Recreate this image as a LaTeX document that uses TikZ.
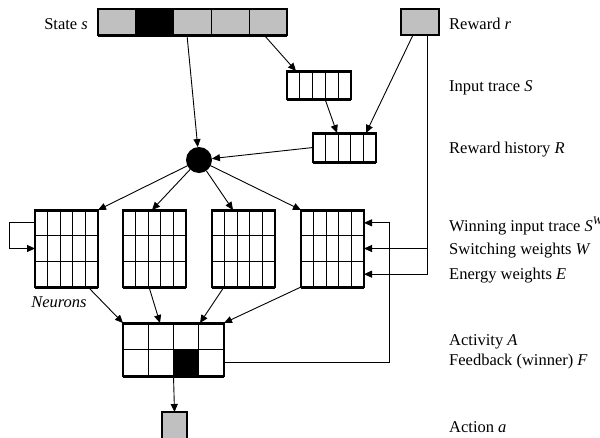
\documentclass[tikz,border=0pt]{standalone}
\usepackage{fontspec}
\setmainfont{Liberation Serif}
\usetikzlibrary{calc,arrows.meta}
\definecolor{cellgray}{HTML}{C0C0C0}
\begin{document}
\begin{tikzpicture}[x=1pt,y=-1pt,
  box/.style={draw, line width=1.1pt, inner sep=0pt, outer sep=0pt, fill=white},
  cell/.style={line width=1.1pt},
  bar/.style={line width=3pt},
  arr/.style={-{Triangle[length=8pt,width=7pt]}, line width=0.9pt},
  lbl/.style={anchor=west, inner sep=0pt, font=\fontsize{16.5}{20}\selectfont},
  lblr/.style={anchor=east, inner sep=0pt, font=\fontsize{16.5}{20}\selectfont}
]
\useasboundingbox (0,0) rectangle (600,437);

% ---------- State s ----------
\node[box, fill=cellgray, minimum width=189pt, minimum height=26pt] (state) at (192.5,22) {};
\fill ($(state.north west)!0.2!(state.north east)$) rectangle ($(state.south west)!0.4!(state.south east)$);
\foreach \i in {1,...,4}
  \draw[cell] ($(state.north west)!\i/5!(state.north east)$) -- ($(state.south west)!\i/5!(state.south east)$);
\draw[line width=1.1pt] (state.north west) rectangle (state.south east);
\draw[bar] (state.south west) -- (state.south east);

% ---------- Reward r ----------
\node[box, fill=cellgray, minimum width=38pt, minimum height=26pt] (reward) at (420,22) {};

% ---------- Input trace S ----------
\node[box, minimum width=64pt, minimum height=28pt] (itrace) at (319,85) {};
\foreach \i in {1,...,4}
  \draw[cell] ($(itrace.north west)!\i/5!(itrace.north east)$) -- ($(itrace.south west)!\i/5!(itrace.south east)$);
\draw[bar] (itrace.north west) -- (itrace.north east);
\draw[bar] (itrace.south west) -- (itrace.south east);

% ---------- Reward history R ----------
\node[box, minimum width=63pt, minimum height=29pt] (rhist) at (344.5,147.5) {};
\foreach \i in {1,...,4}
  \draw[cell] ($(rhist.north west)!\i/5!(rhist.north east)$) -- ($(rhist.south west)!\i/5!(rhist.south east)$);
\draw[bar] (rhist.north west) -- (rhist.north east);
\draw[bar] (rhist.south west) -- (rhist.south east);

% ---------- hub ----------
\node[circle, fill=black, minimum size=26pt, inner sep=0pt, outer sep=0pt] (hub) at (199,160) {};

% ---------- Neuron grids ----------
\foreach \n/\cx in {g1/66.5, g2/154.5, g3/243.5, g4/332.5} {
  \node[box, minimum width=63pt, minimum height=77pt] (\n) at (\cx,248.5) {};
  \foreach \i in {1,...,4}
    \draw[cell] ($(\n.north west)!\i/5!(\n.north east)$) -- ($(\n.south west)!\i/5!(\n.south east)$);
  \foreach \j in {1,2}
    \draw[cell] ($(\n.north west)!\j/3!(\n.south west)$) -- ($(\n.north east)!\j/3!(\n.south east)$);
  \draw[bar] (\n.north west) -- (\n.north east);
  \draw[bar] (\n.south west) -- (\n.south east);
}

% ---------- Activity / Feedback ----------
\node[box, minimum width=101pt, minimum height=53pt] (act) at (173.5,349.5) {};
\fill ($(act.west)!0.5!(act.east)$) rectangle ($(act.south west)!0.75!(act.south east)$);
\foreach \i in {1,2,3}
  \draw[cell] ($(act.north west)!\i/4!(act.north east)$) -- ($(act.south west)!\i/4!(act.south east)$);
\draw[cell] (act.west) -- (act.east);
\draw[bar] (act.north west) -- (act.north east);
\draw[bar] (act.south west) -- (act.south east);

% ---------- Action a ----------
\node[box, fill=cellgray, minimum width=25pt, minimum height=30pt] (action) at (174.5,427) {};

% ---------- connectors ----------
\draw[arr] ($(state.south west)+(89,0)$) -- (hub);
\draw[arr] ($(state.south west)+(166,0)$) -- ($(itrace.north west)+(9,0)$);
\draw[arr] ($(itrace.south west)+(38,0)$) -- ($(rhist.north west)+(24,0)$);
\draw[arr] ($(reward.south west)+(12,0)$) -- ($(rhist.north west)+(53,0)$);
\draw[arr] ($(rhist.north west)!0.5!(rhist.south west)$) -- (hub);

\draw[arr] (hub) -- (g1.north east);
\draw[arr] (hub) -- ($(g2.north west)+(29,0)$);
\draw[arr] (hub) -- ($(g3.north west)+(21,0)$);
\draw[arr] (hub) -- (g4.north west);

\draw[arr] ($(g1.south west)+(53,0)$) -- (act.north west);
\draw[arr] ($(g2.south west)+(26,0)$) -- ($(act.north west)+(37,0)$);
\draw[arr] ($(g3.south west)+(12,0)$) -- ($(act.north west)+(77,0)$);
\draw[arr] (g4.south west) -- (act.north east);

\draw[arr] (act.south) -- (action.north);

% self loop on first grid
\coordinate (g1r1) at ($(g1.north west)!1/6!(g1.south west)$);
\coordinate (g1r2) at ($(g1.north west)!3/6!(g1.south west)$);
\draw[arr] (g1r1) -- ++(-26,0) |- (g1r2);

% reward line to fourth grid
\coordinate (g4r1) at ($(g4.north east)!1/6!(g4.south east)$);
\coordinate (g4r2) at ($(g4.north east)!3/6!(g4.south east)$);
\coordinate (g4r3) at ($(g4.north east)!5/6!(g4.south east)$);
\coordinate (rtap) at ($(reward.south west)+(26,0)$);
\draw[arr] (rtap) |- (g4r3);
\draw[arr] (g4r2 -| rtap) -- (g4r2);

% feedback line
\coordinate (actr2) at ($(act.north east)!3/4!(act.south east)$);
\draw[arr] (actr2) -- ++(165,0) |- (g4r1);

% ---------- labels ----------
\node[lblr] (lstate) at (88,24) {State \textit{s}};
\node[lbl] (lreward) at (449,24) {Reward \textit{r}};
\node[lbl] (litrace) at (449,88) {Input trace \textit{S}};
\node[lbl] (lrhist) at (449,150) {Reward history \textit{R}};
\node[lbl] (lwin) at (449,226) {Winning input trace \textit{S}\textsuperscript{\textit{W}}};
\node[lbl] (lswitch) at (449,251) {Switching weights \textit{W}};
\node[lbl] (lenergy) at (449,276) {Energy weights \textit{E}};
\node[lbl] (lact) at (449,342) {Activity \textit{A}};
\node[lbl] (lfeed) at (449,362) {Feedback (winner) \textit{F}};
\node[lbl] (laction) at (449,427) {Action \textit{a}};
\node[font=\fontsize{16.5}{20}\selectfont\itshape, inner sep=0pt] (lneur) at (59,302) {Neurons};
\end{tikzpicture}
\end{document}
